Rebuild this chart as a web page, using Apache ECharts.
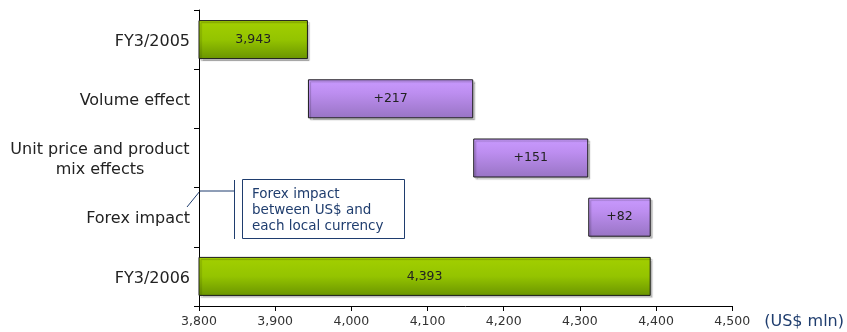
<!DOCTYPE html>
<html>
<head>
<meta charset="utf-8">
<script src="https://cdn.jsdelivr.net/npm/echarts@6/dist/echarts.min.js"></script>
<style>
  html, body { margin: 0; padding: 0; background: #fff; }
  #chart { width: 847px; height: 332px; }
</style>
</head>
<body>
<div id="chart"></div>
<script>
// Sales bridge, FY3/2005 -> FY3/2006 (US$ mln)
const categories = ['FY3/2005', 'Volume effect', 'Unit price and product\nmix effects', 'Forex impact', 'FY3/2006'];
const amounts = [3943, 217, 151, 82, 4393];
const kinds = ['total', 'delta', 'delta', 'delta', 'total'];
const xTicks = [3800, 3900, 4000, 4100, 4200, 4300, 4400, 4500];

// invisible spacer under each step so the deltas float at the running total
const bases = [];
let running = 0;
amounts.forEach((v, i) => {
  if (kinds[i] === 'total') { bases.push(0); running = v; }
  else { bases.push(running); running += v; }
});

const green = new echarts.graphic.LinearGradient(0, 0, 0, 1, [
  { offset: 0, color: '#a3d000' }, { offset: 0.5, color: '#94c400' }, { offset: 1, color: '#6a9400' }
]);
const purple = new echarts.graphic.LinearGradient(0, 0, 0, 1, [
  { offset: 0, color: '#c99aff' }, { offset: 0.35, color: '#bd8ef0' }, { offset: 1, color: '#9874c4' }
]);

const fmt = n => n.toLocaleString('en-US');
const navy = '#1f3d6e';
const font = 'DejaVu Sans';

const chart = echarts.init(document.getElementById('chart'));
chart.setOption({
  animation: false,
  grid: { left: 199, right: 114, top: 10, bottom: 26, containLabel: false },
  xAxis: {
    type: 'value', min: xTicks[0], max: xTicks[xTicks.length - 1], interval: 100,
    axisLine: { show: true, lineStyle: { color: '#000', width: 1 } },
    axisTick: { show: true, length: 5, lineStyle: { color: '#000' } },
    axisLabel: { formatter: v => fmt(v), fontFamily: font, fontSize: 12.5, color: '#333', margin: 9 },
    splitLine: { show: false },
    name: '(US$ mln)', nameLocation: 'end', nameGap: 32,
    nameTextStyle: { fontFamily: font, fontSize: 16, color: navy, verticalAlign: 'top', padding: [8, 0, 0, 0] }
  },
  yAxis: {
    type: 'category', data: categories, inverse: true,
    axisLine: { show: true, lineStyle: { color: '#000', width: 1 } },
    axisTick: { show: true, length: 5, lineStyle: { color: '#000' } },
    axisLabel: {
      fontFamily: font, fontSize: 16, color: '#222', margin: 9, lineHeight: 20, padding: [4, 0, 0, 0],
      formatter: v => v.indexOf('\n') >= 0 ? v.split('\n').map(s => '{c|' + s + '}').join('\n') : v,
      rich: { c: { width: 180, align: 'center', fontFamily: font, fontSize: 16, color: '#222', lineHeight: 20 } }
    }
  },
  series: [
    {
      type: 'bar', stack: 'bridge', data: bases, barWidth: 39, silent: true,
      itemStyle: { color: 'transparent', borderColor: 'transparent' }
    },
    {
      type: 'bar', stack: 'bridge', barWidth: 39,
      data: amounts.map((v, i) => ({
        value: v,
        itemStyle: { color: kinds[i] === 'total' ? green : purple }
      })),
      itemStyle: {
        borderColor: '#1a1a1a', borderWidth: 1,
        shadowColor: 'rgba(0,0,0,0.22)', shadowOffsetX: 2, shadowOffsetY: 2, shadowBlur: 1
      },
      label: {
        show: true, position: 'inside', fontFamily: font, fontSize: 12.5, color: '#222', padding: [3, 0, 0, 0],
        formatter: p => kinds[p.dataIndex] === 'total' ? fmt(p.value) : '+' + fmt(p.value)
      }
    }
  ],
  graphic: [
    // callout for the forex row
    { type: 'polyline', shape: { points: [[187, 207], [200, 191], [234, 191]] }, style: { stroke: navy, lineWidth: 1, fill: null } },
    { type: 'line', shape: { x1: 234.5, y1: 180, x2: 234.5, y2: 239 }, style: { stroke: navy, lineWidth: 1 } },
    { type: 'rect', shape: { x: 242.5, y: 179.5, width: 162, height: 59 }, style: { fill: '#fff', stroke: navy, lineWidth: 1 } },
    {
      type: 'text', left: 252, top: 186,
      style: { text: 'Forex impact\nbetween US$ and\neach local currency', fontFamily: font, fontSize: 13.5, lineHeight: 16, fill: navy }
    }
  ]
});
</script>
</body>
</html>
